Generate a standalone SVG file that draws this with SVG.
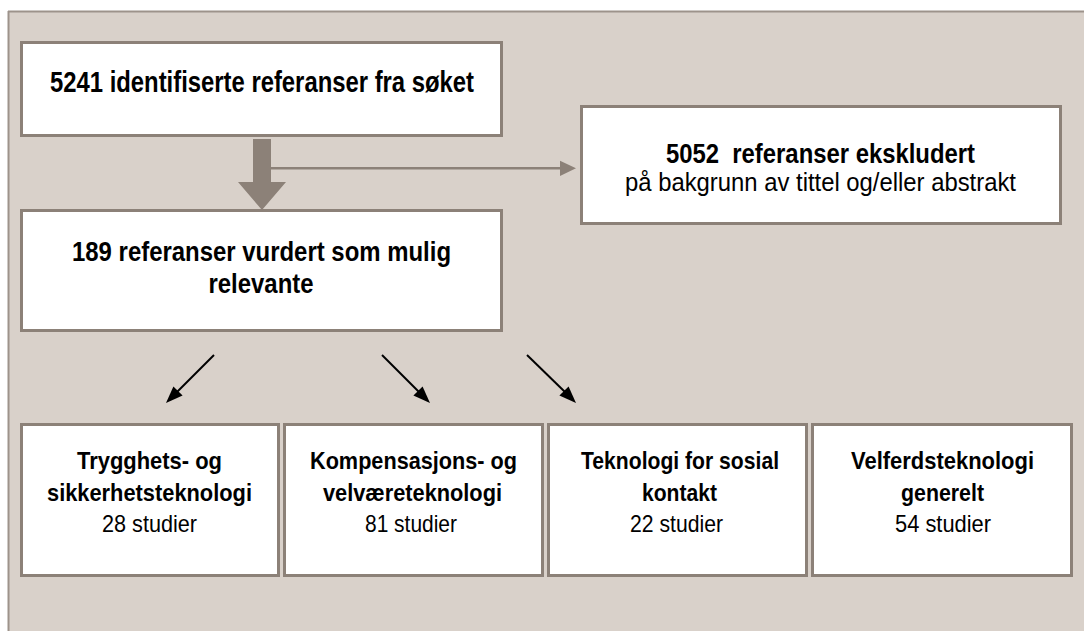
<svg xmlns="http://www.w3.org/2000/svg" width="1085" height="631" viewBox="0 0 1085 631">
  <style>
    .box { fill: #ffffff; stroke: #8c8178; stroke-width: 3; }
    text { font-family: "Liberation Sans Narrow", "Liberation Sans", Arial, sans-serif; fill: #000000; text-anchor: middle; white-space: pre; }
    .big { font-size: 28px; }
    .mid { font-size: 25px; }
    .small { font-size: 24px; }
    .b { font-weight: bold; }
    .gray { fill: #8c8178; }
    .blk { stroke: #000000; stroke-width: 2; fill: none; }
  </style>

  <!-- page background panel -->
  <rect x="0" y="0" width="1085" height="631" fill="#ffffff"/>
  <rect x="8" y="11" width="1076" height="630" fill="#d9d1ca"/>
  <line x1="8" y1="11.5" x2="1084" y2="11.5" stroke="#9d938b" stroke-width="2"/>
  <line x1="8.5" y1="11" x2="8.5" y2="631" stroke="#9d938b" stroke-width="2"/>

  <g id="node-identified">
    <rect class="box" x="21.5" y="42.5" width="480" height="93"/>
    <text class="big b" x="262" y="92" textLength="424" lengthAdjust="spacingAndGlyphs" style="font-size:29px">5241 identifiserte referanser fra søket</text>
  </g>

  <g id="node-excluded">
    <rect class="box" x="581.5" y="106.5" width="479" height="117"/>
    <text class="b" x="820.5" y="162.5" textLength="309" lengthAdjust="spacingAndGlyphs" style="font-size:27px">5052  referanser ekskludert</text>
    <text class="mid" x="820.5" y="190.5" textLength="391" lengthAdjust="spacingAndGlyphs">på bakgrunn av tittel og/eller abstrakt</text>
  </g>

  <g id="node-relevant">
    <rect class="box" x="21.5" y="210.5" width="480" height="120"/>
    <text class="big b" x="261.5" y="261" textLength="379" lengthAdjust="spacingAndGlyphs">189 referanser vurdert som mulig</text>
    <text class="big b" x="261" y="293" textLength="105" lengthAdjust="spacingAndGlyphs">relevante</text>
  </g>

  <g id="node-safety">
    <rect class="box" x="21.5" y="424.5" width="257" height="151"/>
    <text class="small b" x="149.5" y="469" textLength="145" lengthAdjust="spacingAndGlyphs">Trygghets- og</text>
    <text class="small b" x="149.5" y="501" textLength="205" lengthAdjust="spacingAndGlyphs">sikkerhetsteknologi</text>
    <text class="small" x="149.5" y="532" textLength="95" lengthAdjust="spacingAndGlyphs">28 studier</text>
  </g>

  <g id="node-compensation">
    <rect class="box" x="284.5" y="424.5" width="258" height="151"/>
    <text class="small b" x="413.5" y="469" textLength="207" lengthAdjust="spacingAndGlyphs">Kompensasjons- og</text>
    <text class="small b" x="412.5" y="501" textLength="179" lengthAdjust="spacingAndGlyphs">velværeteknologi</text>
    <text class="small" x="411" y="532" textLength="92" lengthAdjust="spacingAndGlyphs">81 studier</text>
  </g>

  <g id="node-social">
    <rect class="box" x="548.5" y="424.5" width="258" height="151"/>
    <text class="small b" x="680" y="469" textLength="198" lengthAdjust="spacingAndGlyphs">Teknologi for sosial</text>
    <text class="small b" x="679.5" y="501" textLength="75" lengthAdjust="spacingAndGlyphs">kontakt</text>
    <text class="small" x="676.5" y="532" textLength="93" lengthAdjust="spacingAndGlyphs">22 studier</text>
  </g>

  <g id="node-general">
    <rect class="box" x="812.5" y="424.5" width="259" height="151"/>
    <text class="small b" x="942.5" y="469" textLength="183" lengthAdjust="spacingAndGlyphs">Velferdsteknologi</text>
    <text class="small b" x="942.5" y="501" textLength="83" lengthAdjust="spacingAndGlyphs">generelt</text>
    <text class="small" x="943" y="532" textLength="96" lengthAdjust="spacingAndGlyphs">54 studier</text>
  </g>

  <g id="connectors">
    <!-- wide block arrow down to the screened set -->
    <polygon class="gray" points="253,139 271,139 271,182 286,182 262,210 238,182 253,182"/>
    <!-- thin arrow to the excluded box -->
    <line x1="271" y1="168.3" x2="562" y2="168.3" stroke="#8c8178" stroke-width="2.5"/>
    <polygon class="gray" points="560,160.7 576,168.3 560,176"/>
    <!-- arrows towards the category boxes -->
    <line class="blk" x1="214" y1="355" x2="177" y2="392"/>
    <polygon points="166,403 173.4,386.4 182.6,395.6" fill="#000000"/>
    <line class="blk" x1="382" y1="355" x2="419" y2="392"/>
    <polygon points="430,403 413.4,395.6 422.6,386.4" fill="#000000"/>
    <line class="blk" x1="527" y1="355" x2="565" y2="392"/>
    <polygon points="576,403 559.4,395.6 568.6,386.4" fill="#000000"/>
  </g>
</svg>
